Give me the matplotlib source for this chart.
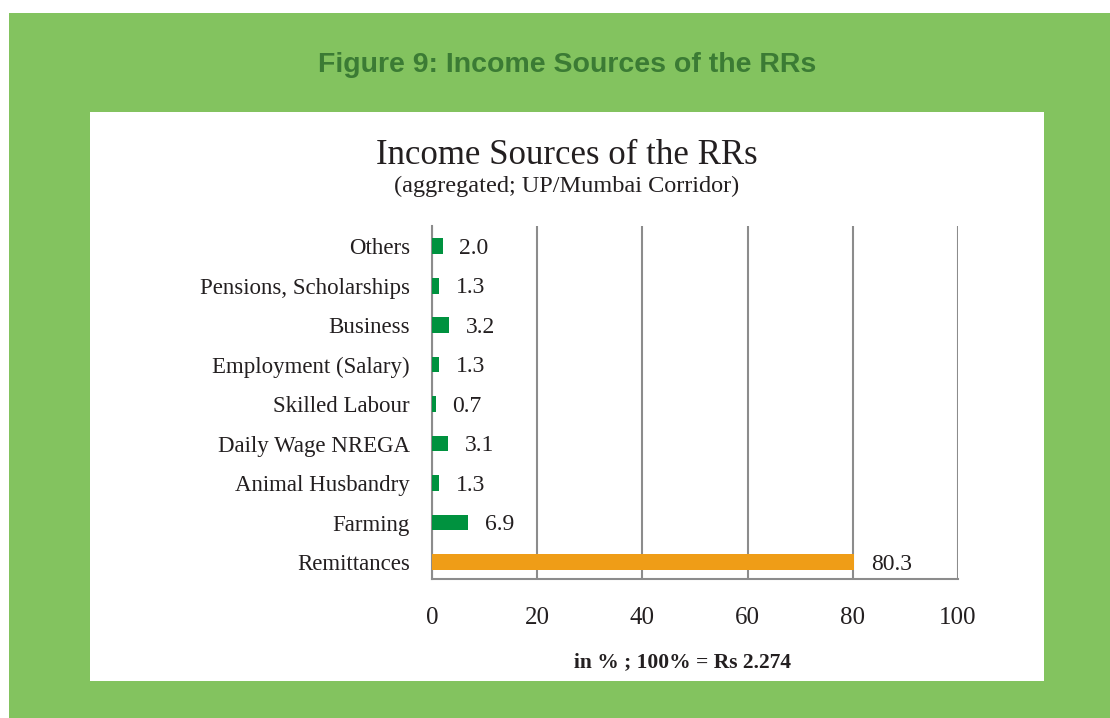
import matplotlib
matplotlib.use("Agg")
import matplotlib.pyplot as plt
from matplotlib.patches import Rectangle

# data, top row first as shown in the chart
categories = ["Others", "Pensions, Scholarships", "Business", "Employment (Salary)",
              "Skilled Labour", "Daily Wage NREGA", "Animal Husbandry", "Farming",
              "Remittances"]
values = [2.0, 1.3, 3.2, 1.3, 0.7, 3.1, 1.3, 6.9, 80.3]
x_ticks = [0, 20, 40, 60, 80, 100]

fig_title = "Figure 9: Income Sources of the RRs"
chart_title = "Income Sources of the RRs"
chart_subtitle = "(aggregated; UP/Mumbai Corridor)"
x_label = "in % ; 100% = Rs 2.274"

GREEN_BG = "#83c35f"
TITLE_GREEN = "#3b7b34"
BAR_GREEN = "#00923f"
BAR_ORANGE = "#ef9d17"
GRID = "#8c8c8c"
TXT = "#231f20"
SERIF = ["Liberation Serif", "DejaVu Serif"]

W, H = 1110, 718
fig = plt.figure(figsize=(W / 100, H / 100), dpi=100)
fig.patch.set_facecolor("white")

# green frame and white panel (pixel boxes converted to figure fractions)
def box(x0, y0, x1, y1, color):
    fig.add_artist(Rectangle((x0 / W, 1 - y1 / H), (x1 - x0) / W, (y1 - y0) / H,
                             transform=fig.transFigure, facecolor=color,
                             edgecolor="none", zorder=0))

box(9, 13, W, H, GREEN_BG)
box(90, 112, 1044, 681, "white")

fig.text(567 / W, 1 - 65 / H, fig_title, ha="center", va="center",
         fontsize=20.5, fontweight="bold", color=TITLE_GREEN,
         family=["Liberation Sans", "DejaVu Sans"])
fig.text(567 / W, 1 - 155 / H, chart_title, ha="center", va="center",
         fontsize=25, color=TXT, family=SERIF)
fig.text(567 / W, 1 - 186 / H, chart_subtitle, ha="center", va="center",
         fontsize=17.5, color=TXT, family=SERIF)

ax = fig.add_axes([432 / W, 1 - 579 / H, (958 - 432) / W, (579 - 226) / H])
ax.set_facecolor("white")

n = len(categories)
ypos = [n - 1 - i for i in range(n)]
colors = [BAR_ORANGE if c == "Remittances" else BAR_GREEN for c in categories]
ax.barh(ypos, values, height=0.4, color=colors, zorder=3)

for y, v in zip(ypos, values):
    ax.annotate(f"{v:.1f}", (v, y), xytext=(12, -1.5), textcoords="offset points",
                ha="left", va="center", fontsize=17, color=TXT, family=SERIF)

ax.set_xlim(0, 100)
ax.set_ylim(-0.43, n - 1 + 0.51)
ax.set_xticks(x_ticks)
ax.set_xticklabels([str(t) for t in x_ticks], family=SERIF, fontsize=18, color=TXT)
ax.set_yticks(ypos)
ax.set_yticklabels(categories, family=SERIF, fontsize=16.5, color=TXT)
ax.tick_params(axis="x", length=0, pad=20)
ax.tick_params(axis="y", length=0, pad=16)

ax.xaxis.grid(True, color=GRID, linewidth=1.5, zorder=1)
ax.yaxis.grid(False)
for side in ["top", "right"]:
    ax.spines[side].set_visible(False)
for side in ["left", "bottom"]:
    ax.spines[side].set_color(GRID)
    ax.spines[side].set_linewidth(1.5)

ax.set_xlabel(x_label, family=SERIF, fontsize=15.5, fontweight="bold", color=TXT)
ax.xaxis.set_label_coords((682 - 432) / (958 - 432), -(652 - 579) / (579 - 226))

fig.savefig("out.png", dpi=100)
